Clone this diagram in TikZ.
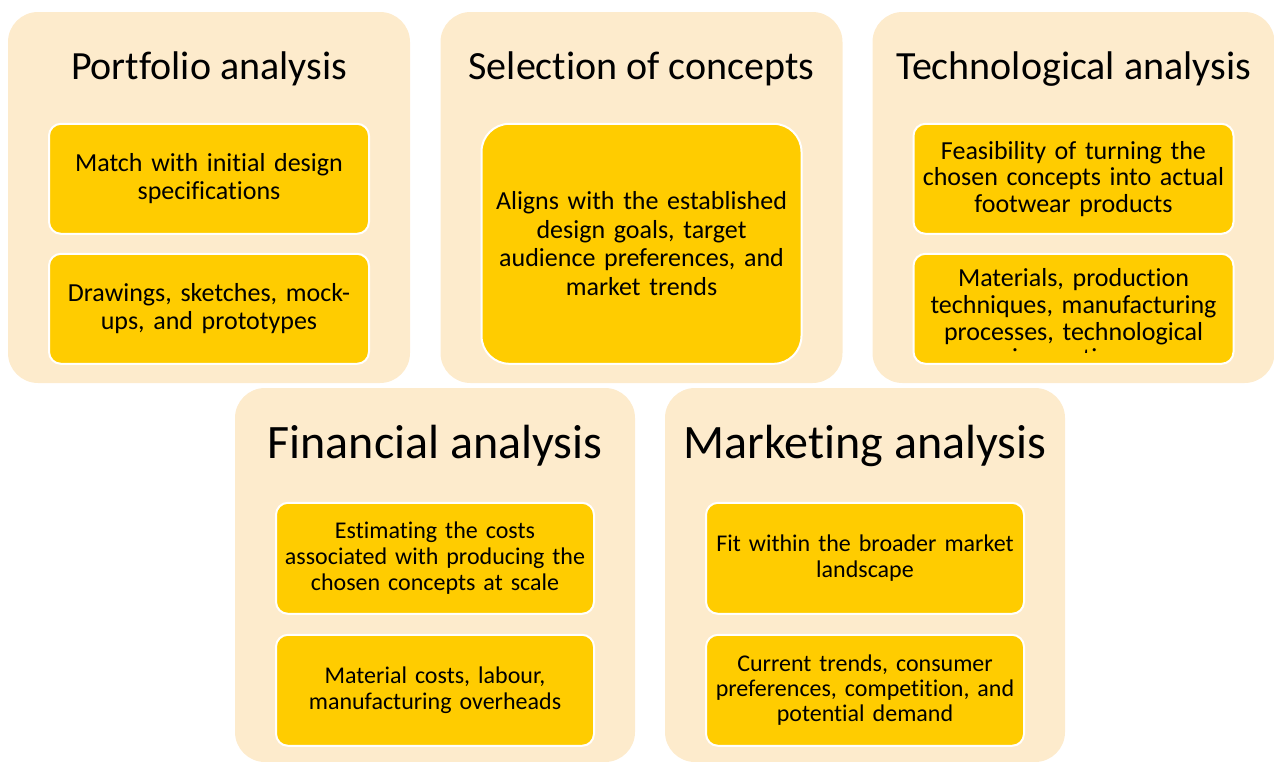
\documentclass[tikz,border=0pt]{standalone}
\usepackage{fontspec}
\setmainfont{Carlito}[Ligatures=CommonOff]
\usetikzlibrary{positioning,calc}
\definecolor{panelfill}{HTML}{FDEBCC}
\definecolor{itemfill}{HTML}{FFCC00}
\tikzset{
	panel/.style={rectangle, rounded corners=30pt, fill=panelfill, inner sep=0pt,
		minimum width=402pt, minimum height=371pt},
	itemtext/.style={align=center, text width=312pt, inner sep=0pt, font=\fontsize{26}{28.5}\selectfont},
	itembox/.style={itemtext, rectangle, rounded corners=12pt, fill=itemfill, draw=white, line width=2pt,
		minimum width=320pt, minimum height=110pt},
	paneltitle/.style={anchor=base, font=\fontsize{40}{48}\selectfont}
}

\begin{document}
\begin{tikzpicture}[x=1pt, y=-1pt,
		lowpanel/.style={panel, minimum width=400pt, minimum height=374pt},
		lowitem/.style={itembox, minimum width=318pt, minimum height=111pt, text width=310pt,
			font=\fontsize{24}{26}\selectfont},
		lowtitle/.style={paneltitle, font=\fontsize{48}{58}\selectfont}
	]
	\useasboundingbox (0,0) rectangle (1274,761);
	% top row
	\node[panel] (port) at (209,197.5) {};
	\node[panel] (sel) at (641.5,197.5) {};
	\node[panel] (tech) at (1073.5,197.5) {};
	\node[paneltitle] (porttitle) at ($(port.north)+(0,68)$) {Portfolio analysis};
	\node[paneltitle] (seltitle) at ($(sel.north)+(0,68)$) {Selection of concepts};
	\node[paneltitle] (techtitle) at ($(tech.north)+(0,68)$) {Technological analysis};
	\node[itembox, below=111pt of port.north] (port1) {Match with initial design\\specifications};
	\node[itembox, below=18pt of port1] (port2) {Drawings, sketches, mock-\\ups, and prototypes};
	\node[itembox, below=111pt of sel.north, minimum height=240pt, rounded corners=28pt] (sel1)
		{Aligns with the established\\design goals, target\\audience preferences, and\\market trends};
	\node[itembox, below=111pt of tech.north, font=\fontsize{26}{26.7}\selectfont] (tech1)
		{Feasibility of turning the\\chosen concepts into actual\\footwear products};
	\node[itembox, below=18pt of tech1] (tech2) {};
	\begin{scope}
		\clip[rounded corners=10pt] ($(tech2.north west)+(2,2)$) rectangle ($(tech2.south east)+(-2,-12)$);
		\node[itemtext, font=\fontsize{26}{26.7}\selectfont] (tech2txt) at ($(tech2.center)+(0,9)$)
			{Materials, production\\techniques, manufacturing\\processes, technological\\innovations};
	\end{scope}
	% bottom row
	\node[lowpanel] (fin) at (435,575) {};
	\node[lowpanel] (mkt) at (865,575) {};
	\node[lowtitle] (fintitle) at ($(fin.north)+(0,71)$) {Financial analysis};
	\node[lowtitle] (mkttitle) at ($(mkt.north)+(0,71)$) {Marketing analysis};
	\node[lowitem, below=114pt of fin.north] (fin1)
		{Estimating the costs\\associated with producing the\\chosen concepts at scale};
	\node[lowitem, below=19pt of fin1] (fin2) {Material costs, labour,\\manufacturing overheads};
	\node[lowitem, below=114pt of mkt.north] (mkt1) {Fit within the broader market\\landscape};
	\node[lowitem, below=19pt of mkt1, font=\fontsize{24}{25}\selectfont] (mkt2)
		{Current trends, consumer\\preferences, competition, and\\potential demand};
\end{tikzpicture}
\end{document}
